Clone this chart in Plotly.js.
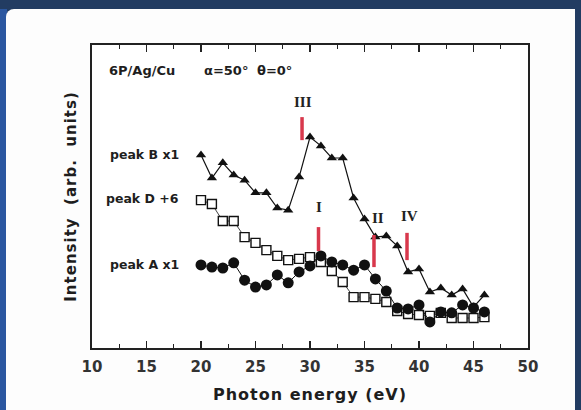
<!DOCTYPE html>
<html>
<head>
<meta charset="utf-8">
<script src="https://cdn.plot.ly/plotly-3.0.1.min.js"></script>
<style>
  html, body { margin: 0; padding: 0; }
  body { width: 581px; height: 410px; background: #223c62; position: relative; overflow: hidden; }
  #leftstrip { position: absolute; left: 0; top: 9px; width: 7px; height: 401px; background: #2b57a0; }
  #panel { position: absolute; left: 6px; top: 9px; width: 569px; height: 410px; background: #fdfdfd; border-top-left-radius: 8px; }
  #chart { position: absolute; left: 0; top: 0; width: 581px; height: 410px; }
  .xtitle, .ytitle { letter-spacing: 1px; }
</style>
</head>
<body>
<div id="leftstrip"></div>
<div id="panel"></div>
<div id="chart"></div>
<script>
// Photon energy (eV)
const energy = [20, 21, 22, 23, 24, 25, 26, 27, 28, 29, 30, 31, 32, 33, 34, 35, 36, 37, 38, 39, 40, 41, 42, 43, 44, 45, 46];
// Intensities (arb. units)
const peakB = [6.37, 5.61, 6.11, 5.71, 5.54, 5.12, 5.12, 4.62, 4.55, 5.64, 6.96, 6.67, 6.27, 6.27, 4.95, 4.26, 3.66, 3.70, 3.37, 2.51, 2.61, 1.85, 1.98, 1.75, 1.95, 1.35, 1.75];
const peakD = [4.88, 4.75, 4.19, 4.19, 3.66, 3.47, 3.23, 3.04, 2.90, 2.94, 3.00, 2.84, 2.54, 2.18, 1.68, 1.68, 1.62, 1.52, 1.22, 1.12, 1.09, 1.06, 1.16, 0.99, 0.99, 0.99, 1.02];
const peakA = [2.74, 2.67, 2.64, 2.81, 2.24, 2.01, 2.08, 2.41, 2.15, 2.51, 2.71, 3.04, 2.84, 2.74, 2.57, 2.74, 2.28, 1.88, 1.32, 1.29, 1.42, 0.86, 1.19, 1.16, 1.42, 1.32, 1.19];

// Series labels
const seriesNames = ["peak B x1", "peak D +6", "peak A x1"];
const seriesLabelY = [6.40, 4.95, 2.74];
const seriesLabelE = 18.17;

// Header text pieces
const headerParts = ["6P/Ag/Cu", "\u03b1=50\u00b0", "\u03b8=0\u00b0"];
const headerPartE = [11.38, 20.09, 24.95];
const headerY = 9.17;

// Red feature markers
const featNames = ["III", "I", "II", "IV"];
const featE = [29.27, 30.78, 35.87, 38.90];
const featLo = [6.86, 3.20, 2.67, 2.90];
const featHi = [7.62, 3.99, 3.73, 3.80];
const featLabelE = [29.36, 30.83, 36.24, 39.17];
const featLabelY = [8.12, 4.65, 4.29, 4.36];

const xTicks = [10, 15, 20, 25, 30, 35, 40, 45, 50];

const ink = "#111111";
const red = "#d8384c";
const boldFont = { family: "DejaVu Sans", weight: "bold", color: "#1e1e1e" };

const traces = [
  {
    x: energy, y: peakD, type: "scatter", mode: "lines+markers", name: seriesNames[1],
    line: { color: ink, width: 0.8 },
    marker: { symbol: "square", size: 9, color: "#ffffff", line: { color: ink, width: 1.4 } }
  },
  {
    x: energy, y: peakA, type: "scatter", mode: "lines+markers", name: seriesNames[2],
    line: { color: ink, width: 1 },
    marker: { symbol: "circle", size: 11, color: ink }
  },
  {
    x: energy, y: peakB, type: "scatter", mode: "lines+markers", name: seriesNames[0],
    line: { color: ink, width: 1.2 },
    marker: { symbol: "triangle-up", size: 9, color: ink }
  }
];

const shapes = featE.map((e, i) => ({
  type: "line", xref: "x", yref: "y",
  x0: e, x1: e, y0: featLo[i], y1: featHi[i],
  line: { color: red, width: 3.5 }
}));

const annotations = [];
seriesNames.forEach((n, i) => annotations.push({
  x: seriesLabelE, y: seriesLabelY[i], xref: "x", yref: "y", text: n,
  showarrow: false, xanchor: "right", yanchor: "middle",
  font: Object.assign({}, boldFont, { size: 12.5 })
}));
headerParts.forEach((t, i) => annotations.push({
  x: headerPartE[i], y: headerY, xref: "x", yref: "y", text: t,
  showarrow: false, xanchor: "left", yanchor: "middle",
  font: Object.assign({}, boldFont, { size: 13 })
}));
featNames.forEach((n, i) => annotations.push({
  x: featLabelE[i], y: featLabelY[i], xref: "x", yref: "y", text: n,
  showarrow: false, xanchor: "center", yanchor: "middle",
  font: { family: "Liberation Serif", size: 15, weight: "bold", color: "#222" }
}));

const layout = {
  width: 581, height: 410,
  margin: { l: 92, r: 53, t: 45, b: 62 },
  paper_bgcolor: "rgba(0,0,0,0)",
  plot_bgcolor: "#ffffff",
  showlegend: false,
  xaxis: {
    range: [10, 50], tickvals: xTicks, ticktext: xTicks.map(String),
    ticks: "inside", ticklen: 7, tickwidth: 1.3, tickcolor: "#222",
    minor: { dtick: 2.5, tick0: 10, ticks: "inside", ticklen: 4, tickwidth: 1.2, tickcolor: "#222" },
    showline: true, linecolor: "#222", linewidth: 1.6, mirror: "ticks",
    showgrid: false, zeroline: false,
    ticklabelstandoff: 4,
    tickfont: Object.assign({}, boldFont, { size: 15, color: "#333" }),
    title: { text: "Photon energy (eV)", font: Object.assign({}, boldFont, { size: 16 }), standoff: 14 }
  },
  yaxis: {
    range: [0, 10], showticklabels: false, ticks: "",
    showline: true, linecolor: "#222", linewidth: 1.6, mirror: true,
    showgrid: false, zeroline: false,
    title: { text: "Intensity\u00a0\u00a0(arb.\u00a0\u00a0units)", font: Object.assign({}, boldFont, { size: 15 }), standoff: 10 }
  },
  shapes: shapes,
  annotations: annotations
};

Plotly.newPlot("chart", traces, layout, { displayModeBar: false, staticPlot: true });
</script>
</body>
</html>
